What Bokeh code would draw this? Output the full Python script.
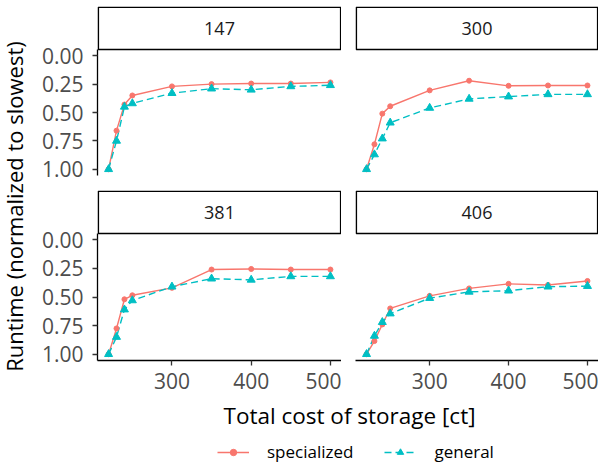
import math
from bokeh.plotting import figure
from bokeh.layouts import row, column
from bokeh.models import (Range1d, Label, Legend, LegendItem, FixedTicker,
                          PrintfTickFormatter)
from bokeh.embed import file_html
from bokeh.resources import INLINE
from bokeh.core.properties import value

# ---------------- data ----------------
cost = [220, 230, 240, 250, 300, 350, 400, 450, 500]
panel_names = ["147", "300", "381", "406"]

spec_147 = [1.00, 0.66, 0.43, 0.35, 0.27, 0.25, 0.245, 0.245, 0.235]
gen_147 = [1.00, 0.75, 0.45, 0.42, 0.33, 0.29, 0.30, 0.27, 0.26]
spec_300 = [1.00, 0.78, 0.51, 0.445, 0.305, 0.22, 0.265, 0.262, 0.262]
gen_300 = [1.00, 0.87, 0.73, 0.59, 0.46, 0.38, 0.36, 0.34, 0.34]
spec_381 = [1.00, 0.775, 0.52, 0.485, 0.42, 0.26, 0.255, 0.26, 0.26]
gen_381 = [1.00, 0.85, 0.61, 0.53, 0.41, 0.34, 0.35, 0.32, 0.32]
spec_406 = [1.00, 0.885, 0.74, 0.60, 0.49, 0.425, 0.385, 0.395, 0.36]
gen_406 = [1.00, 0.84, 0.72, 0.645, 0.51, 0.455, 0.445, 0.41, 0.405]

x_ticks = [300, 400, 500]
y_ticks = [0.0, 0.25, 0.5, 0.75, 1.0]
series_names = ["specialized", "general"]

# ---------------- style ----------------
FONT = "Open Sans"
RED = "#F8766D"
CYAN = "#00BFC4"
TICK_COL = "#4D4D4D"
LINE_W = 1.4
DASH = "7 4"

X_START, X_END = 206, 514
Y_BOT, Y_TOP = 1.055, -0.055

LEFT_W = 38          # y-title column
LB = 59              # left border of left panels (y tick labels)
GAP = 14             # gap before right panels
FW_L, FW_R = 244, 243
STRIP_H = 43
PAD1 = 6                  # space above first strip
PH_TOP, PH_BOT = 126, 127
MID_B = 15
BOT_B = 38
STRIP_LW = 1.6


def panel(name, spec, gen, fw, ph, lb, tb, bb, show_y, show_x):
    upp = (Y_BOT - Y_TOP) / ph              # y data units per pixel
    xpp = (X_END - X_START) / fw            # x data units per pixel
    y_top_ext = Y_TOP - STRIP_H * upp       # top of strip
    p = figure(frame_width=fw, frame_height=ph + STRIP_H,
               x_range=Range1d(X_START, X_END), y_range=Range1d(Y_BOT, y_top_ext),
               output_backend="svg", toolbar_location=None,
               min_border_left=lb, min_border_right=0, min_border_top=tb,
               min_border_bottom=bb)
    p.grid.visible = False
    p.outline_line_color = None
    p.background_fill_color = "white"
    p.border_fill_color = "white"

    # facet strip (inside the extended frame, above the data area)
    h = STRIP_LW / 2
    p.quad(left=[X_START + h * xpp], right=[X_END - h * xpp],
           top=[y_top_ext + h * upp], bottom=[Y_TOP],
           fill_color="white", line_color="black", line_width=STRIP_LW)
    p.text(x=[(X_START + X_END) / 2], y=[(y_top_ext + Y_TOP) / 2], text=[name],
           text_align="center", text_baseline="middle", text_font=value(FONT),
           text_font_size="18px", text_color="#1A1A1A")

    p.line(cost, spec, line_color=RED, line_width=LINE_W)
    p.line(cost, gen, line_color=CYAN, line_width=LINE_W, line_dash=DASH)
    p.scatter(cost, spec, marker="circle", size=5, color=RED)
    p.scatter(cost, gen, marker="triangle", size=8, color=CYAN)

    for ax, show in ((p.xaxis, show_x), (p.yaxis, show_y)):
        ax.visible = show
        ax.axis_line_color = "black"
        ax.axis_line_width = 1.3
        ax.major_tick_line_color = "#333333"
        ax.major_tick_line_width = 1.3
        ax.major_tick_in = 0
        ax.major_tick_out = 5
        ax.minor_tick_line_color = None
        ax.major_label_text_font = FONT
        ax.major_label_text_font_size = "21px"
        ax.major_label_text_color = TICK_COL
    p.xaxis.ticker = FixedTicker(ticks=x_ticks)
    p.yaxis.ticker = FixedTicker(ticks=y_ticks)
    p.yaxis.bounds = (min(Y_TOP, Y_BOT), max(Y_TOP, Y_BOT))
    p.yaxis.formatter = PrintfTickFormatter(format="%.2f")
    p.xaxis.major_label_standoff = 7
    p.yaxis.major_label_standoff = 9
    return p


p1 = panel(panel_names[0], spec_147, gen_147, FW_L, PH_TOP, LB, PAD1, MID_B, True, False)
p2 = panel(panel_names[1], spec_300, gen_300, FW_R, PH_TOP, GAP, PAD1, MID_B, False, False)
p3 = panel(panel_names[2], spec_381, gen_381, FW_L, PH_BOT, LB, 0, BOT_B, True, True)
p4 = panel(panel_names[3], spec_406, gen_406, FW_R, PH_BOT, GAP, 0, BOT_B, False, True)

grid_h = PAD1 + STRIP_H + PH_TOP + MID_B + STRIP_H + PH_BOT + BOT_B

# y-axis title column
yt = figure(frame_width=LEFT_W, frame_height=grid_h, x_range=Range1d(0, LEFT_W),
            y_range=Range1d(0, grid_h), output_backend="svg", toolbar_location=None,
            min_border=0)
yt.axis.visible = False
yt.grid.visible = False
yt.outline_line_color = None
yt.add_layout(Label(x=13, y=grid_h - 206, text="Runtime (normalized to slowest)",
                    angle=math.pi / 2, text_align="center", text_baseline="middle",
                    text_font=FONT, text_font_size="22px", text_color="black"))

# bottom: x title + legend
TOT_W = LEFT_W + LB + FW_L + GAP + FW_R
BH = 463 - grid_h
Y0 = 50
bt = figure(frame_width=TOT_W, frame_height=BH, x_range=Range1d(0, TOT_W),
            y_range=Range1d(Y0, Y0 + BH), output_backend="svg", toolbar_location=None,
            min_border=0)
bt.axis.visible = False
bt.grid.visible = False
bt.outline_line_color = None
bt.add_layout(Label(x=349, y=Y0 + BH - 17, text="Total cost of storage [ct]",
                    text_align="center", text_baseline="middle",
                    text_font=FONT, text_font_size="22.5px", text_color="black"))

# legend glyph renderers (their data lie far outside this figure's visible range)
r_sl = bt.line(cost, spec_147, line_color=RED, line_width=LINE_W)
r_sp = bt.scatter(cost, spec_147, marker="circle", size=5, color=RED)
r_gl = bt.line(cost, gen_147, line_color=CYAN, line_width=LINE_W, line_dash=DASH)
r_gp = bt.scatter(cost, gen_147, marker="triangle", size=8, color=CYAN)
legend = Legend(items=[LegendItem(label=series_names[0], renderers=[r_sl, r_sp]),
                       LegendItem(label=series_names[1], renderers=[r_gl, r_gp])],
                orientation="horizontal", location=(217, 0),
                padding=0, margin=0, spacing=31, label_standoff=18,
                glyph_width=32, glyph_height=16, label_height=16,
                border_line_color=None, background_fill_alpha=0,
                label_text_font=FONT, label_text_font_size="17px",
                label_text_color="black")
bt.add_layout(legend)

grid = column(row(p1, p2), row(p3, p4))
layout = column(row(yt, grid), bt)

open("out.html", "w").write(file_html(layout, INLINE))
